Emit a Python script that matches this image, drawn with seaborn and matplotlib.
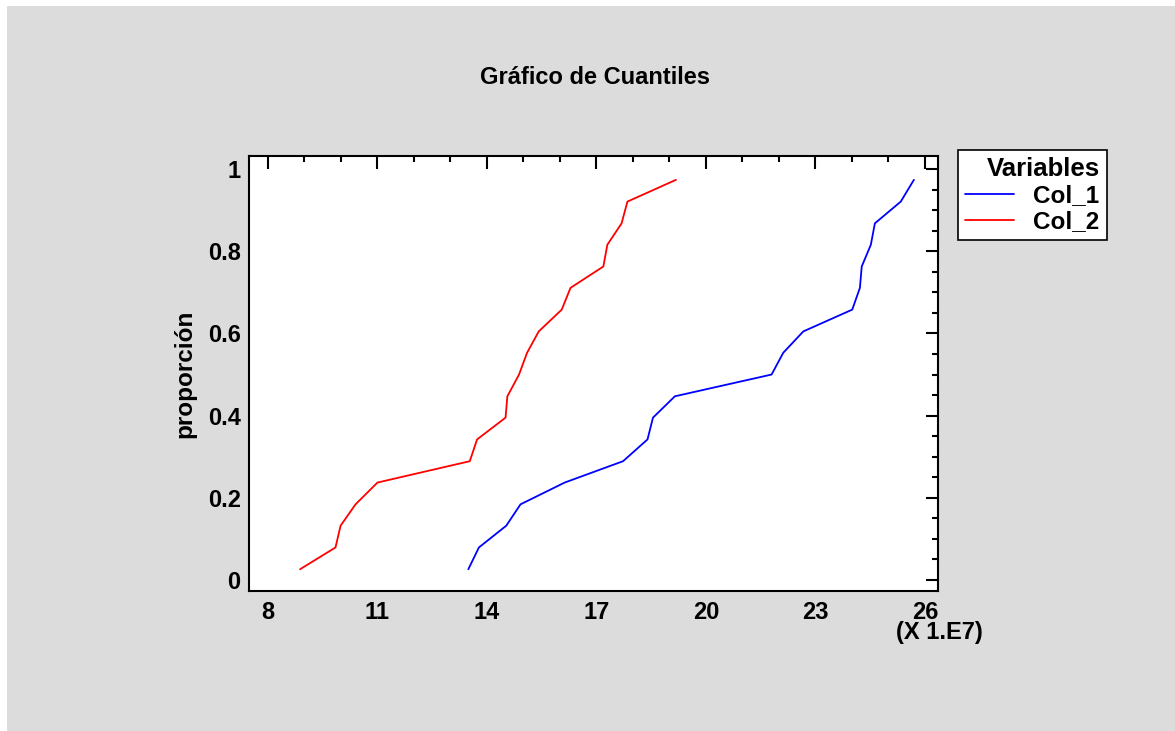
import pandas as pd
import matplotlib
matplotlib.use("Agg")
import matplotlib.pyplot as plt
import seaborn as sns
from matplotlib.ticker import MultipleLocator

# valores en unidades de 1e7
col_1 = [13.49, 13.78, 14.53, 14.92, 16.13, 17.73, 18.40, 18.55, 19.15, 21.80,
         22.12, 22.67, 24.01, 24.22, 24.27, 24.52, 24.63, 25.34, 25.70]
col_2 = [8.88, 9.85, 9.99, 10.40, 11.00, 13.53, 13.73, 14.51, 14.56, 14.88,
         15.10, 15.42, 16.05, 16.29, 17.19, 17.30, 17.69, 17.85, 19.18]
proporcion = [0.026, 0.079, 0.132, 0.184, 0.237, 0.289, 0.342, 0.395, 0.447, 0.500,
              0.553, 0.605, 0.658, 0.711, 0.763, 0.816, 0.868, 0.921, 0.974]

df = pd.concat([
    pd.DataFrame({'valor': col_1, 'proporción': proporcion, 'Variables': 'Col_1'}),
    pd.DataFrame({'valor': col_2, 'proporción': proporcion, 'Variables': 'Col_2'}),
])

sns.set_style("white")
plt.rcParams['font.family'] = ['Liberation Sans', 'DejaVu Sans']
plt.rcParams['font.weight'] = 'bold'
plt.rcParams['text.color'] = 'black'
plt.rcParams['axes.labelcolor'] = 'black'
plt.rcParams['xtick.color'] = 'black'
plt.rcParams['ytick.color'] = 'black'

fig = plt.figure(figsize=(11.75, 7.31), dpi=100)
fig.patch.set_facecolor('white')
# fondo gris con un pequeño margen blanco arriba/izquierda
fig.patches.append(plt.Rectangle((7 / 1175, 0), 1, 1 - 6 / 731, transform=fig.transFigure,
                                 facecolor='#dcdcdc', edgecolor='none', zorder=-10))

ax = fig.add_axes([0.2119, 0.1915, 0.5864, 0.5951])
sns.lineplot(data=df, x='valor', y='proporción', hue='Variables',
             palette={'Col_1': 'blue', 'Col_2': 'red'}, estimator=None, sort=False,
             linewidth=1.3, ax=ax, legend=False)

ax.set_xlim(7.48, 26.36)
ax.set_ylim(-0.027, 1.032)
ax.xaxis.set_minor_locator(MultipleLocator(1))
ax.yaxis.set_minor_locator(MultipleLocator(0.05))
ax.set_xticks([8, 11, 14, 17, 20, 23, 26])
ax.set_xticklabels(['8', '11', '14', '17', '20', '23', '26'])
ax.set_yticks([0, 0.2, 0.4, 0.6, 0.8, 1])
ax.set_yticklabels(['0', '0.2', '0.4', '0.6', '0.8', '1'])
ax.tick_params(which='both', direction='in', top=True, right=True, color='black',
               labelsize=17, width=1.5)
ax.tick_params(which='major', length=9)
ax.tick_params(axis='x', which='major', pad=7)
ax.tick_params(axis='y', which='major', pad=6)
ax.tick_params(which='minor', length=4.5)
for s in ax.spines.values():
    s.set_color('black')
    s.set_linewidth(1.5)

ax.set_xlabel('')
ax.set_ylabel('proporción', fontsize=17.5, fontweight='bold', labelpad=8)
fig.text(595 / 1175, 1 - 78 / 731, 'Gráfico de Cuantiles', ha='center', va='center',
         fontsize=17, fontweight='bold')
fig.text(983 / 1175, 1 - 633 / 731, '(X 1.E7)', ha='right', va='center',
         fontsize=17, fontweight='bold')

handles = [plt.Line2D([], [], color='blue', lw=1.3), plt.Line2D([], [], color='red', lw=1.3)]
leg = fig.legend(handles, ['Col_1', 'Col_2'], title='Variables', loc='upper left',
                 bbox_to_anchor=(958 / 1175, 1 - 150 / 731), fontsize=17.5,
                 title_fontproperties={'weight': 'bold', 'size': 18.5},
                 frameon=True, fancybox=False, edgecolor='black', framealpha=1,
                 handlelength=2.0, borderpad=0.3, borderaxespad=0, labelspacing=0.12,
                 handletextpad=0.8)
leg.get_frame().set_linewidth(1.2)
leg._legend_box.align = 'right'

fig.savefig('out.png', dpi=100)
